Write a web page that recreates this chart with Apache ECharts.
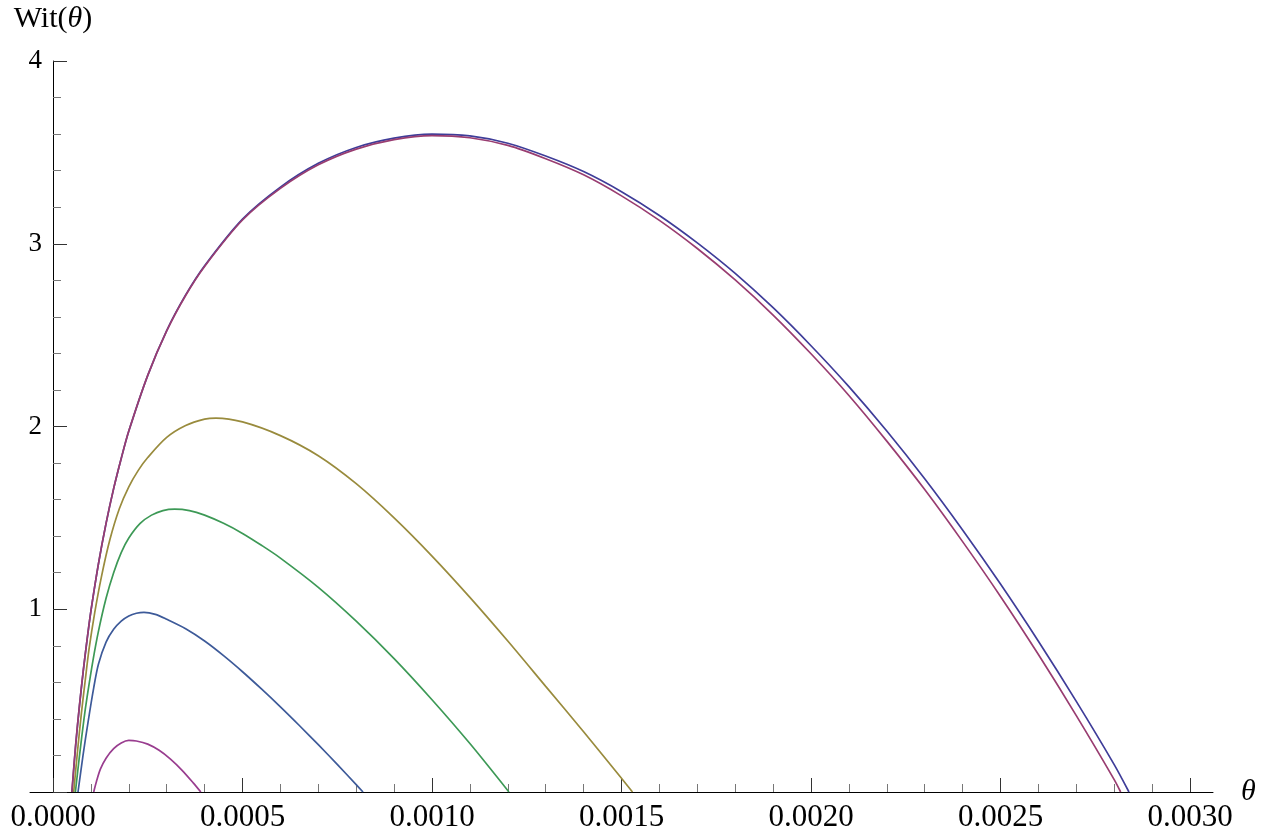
<!DOCTYPE html>
<html>
<head>
<meta charset="utf-8">
<script src="https://cdn.jsdelivr.net/npm/echarts@6/dist/echarts.min.js"></script>
<style>
html,body{margin:0;padding:0;background:#fff;}
#chart{width:1267px;height:835px;}
</style>
</head>
<body>
<div id="chart"></div>
<script>
// ---- data ----
const yTickValues = [0, 1, 2, 3, 4];

// series 1 (dark blue, largest)
const theta1 = [0.0000501,0.00006,0.00007,0.00008,0.00009,0.0001,0.00012,0.00014,0.00016,0.00018,0.0002,0.00025,0.0003,0.00035,0.0004,0.0005,0.0006,0.0007,0.0008,0.0009,0.001,0.0011,0.0012,0.0013,0.0014,0.0015,0.0016,0.0017,0.0018,0.0019,0.002,0.0021,0.0022,0.0023,0.0024,0.0025,0.0026,0.0027,0.0028,0.002839];
const wit1   = [0,0.26,0.475,0.665,0.835,0.99,1.25,1.47,1.66,1.825,1.975,2.28,2.525,2.72,2.88,3.135,3.31,3.44,3.527,3.578,3.600,3.59,3.55,3.48,3.395,3.285,3.155,3.005,2.838,2.65,2.442,2.218,1.975,1.714,1.434,1.138,0.825,0.496,0.15,0];

// series 2 (purple, almost on top of series 1)
const theta2 = [0.0000497,0.00006,0.00007,0.00008,0.00009,0.0001,0.00012,0.00014,0.00016,0.00018,0.0002,0.00025,0.0003,0.00035,0.0004,0.0005,0.0006,0.0007,0.0008,0.0009,0.001,0.0011,0.0012,0.0013,0.0014,0.0015,0.0016,0.0017,0.0018,0.0019,0.002,0.0021,0.0022,0.0023,0.0024,0.0025,0.0026,0.0027,0.0028,0.002817];
const wit2   = [0,0.265,0.478,0.667,0.835,0.99,1.25,1.47,1.66,1.825,1.975,2.28,2.523,2.717,2.876,3.13,3.303,3.432,3.518,3.57,3.592,3.58,3.538,3.465,3.377,3.262,3.128,2.974,2.802,2.61,2.398,2.17,1.92,1.655,1.37,1.07,0.752,0.418,0.068,0];

// series 3 (olive)
const theta3 = [0.0000546,0.000065,0.0000749,0.000085,0.000095,0.00011,0.000128,0.00015,0.000175,0.0002,0.000225,0.00025,0.0003,0.00035,0.0004,0.00043,0.0005,0.0006,0.0007,0.0008,0.0009,0.001,0.0011,0.0012,0.0013,0.0014,0.0015,0.001529];
const wit3   = [0,0.23,0.43,0.61,0.78,0.98,1.18,1.38,1.55,1.67,1.76,1.83,1.94,2.005,2.04,2.046,2.025,1.95,1.84,1.687,1.5,1.291,1.065,0.826,0.578,0.33,0.075,0];

// series 4 (green)
const theta4 = [0.0000591,0.00007,0.0000818,0.00009,0.0001055,0.00012,0.00014,0.00016,0.00018,0.0002,0.00023,0.00026,0.00029,0.000321,0.00036,0.0004,0.00045,0.0005,0.00055,0.0006,0.0007,0.0008,0.0009,0.001,0.0011,0.001203];
const wit4   = [0,0.2,0.4,0.52,0.72,0.88,1.06,1.2,1.31,1.39,1.47,1.515,1.54,1.548,1.54,1.515,1.47,1.415,1.35,1.28,1.12,0.935,0.73,0.505,0.265,0];

// series 5 (blue, small)
const theta5 = [0.000066,0.0000792,0.0000923,0.0001074,0.00012,0.00014,0.00016,0.00018,0.0002,0.00022,0.00024,0.00027,0.0003,0.00035,0.0004,0.00045,0.0005,0.00055,0.0006,0.00065,0.0007,0.00075,0.0008,0.000818];
const wit5   = [0,0.2,0.38,0.57,0.70,0.82,0.89,0.935,0.963,0.978,0.983,0.972,0.945,0.893,0.826,0.746,0.658,0.564,0.466,0.364,0.259,0.151,0.04,0];

// series 6 (magenta, smallest)
const theta6 = [0.0001074,0.000115,0.000125,0.00014,0.00016,0.00018,0.0002,0.00022,0.00025,0.00028,0.00031,0.00034,0.00037,0.00039];
const wit6   = [0,0.06,0.125,0.185,0.237,0.268,0.282,0.279,0.262,0.228,0.18,0.12,0.05,0];

const seriesColors = ['#3F3D99','#993D71','#998B3D','#3D9956','#3D5A99','#993D8F'];

// ---- build ----
const zip = (xs, ys) => xs.map((x, i) => [x, ys[i]]);
const allData = [zip(theta1,wit1), zip(theta2,wit2), zip(theta3,wit3), zip(theta4,wit4), zip(theta5,wit5), zip(theta6,wit6)];

const FONT = '"Liberation Serif", "DejaVu Serif", serif';
const chart = echarts.init(document.getElementById('chart'), null, {renderer: 'canvas'});

const option = {
  backgroundColor: '#ffffff',
  animation: false,
  grid: [
    {left: 53, right: 77, top: 61, bottom: 43},
    {left: 30, right: 54, top: 61, bottom: 43}
  ],
  xAxis: [
    {
      gridIndex: 0, type: 'value', min: 0, max: 0.003, interval: 0.0005,
      axisLine: {show: true, onZero: false, lineStyle: {color: '#000', width: 1}},
      axisTick: {show: true, inside: true, length: 14, lineStyle: {color: '#333', width: 1}},
      minorTick: {show: true, splitNumber: 5, length: 8, lineStyle: {color: '#777', width: 1}},
      splitLine: {show: false},
      axisLabel: {
        show: true, margin: 10, color: '#000', fontFamily: FONT, fontSize: 31,
        formatter: v => Number(v).toFixed(4)
      }
    },
    {
      gridIndex: 1, type: 'value', min: 0, max: 1,
      axisLine: {show: true, onZero: false, lineStyle: {color: '#000', width: 1}},
      axisTick: {show: false}, axisLabel: {show: false}, splitLine: {show: false},
      name: 'θ', nameLocation: 'end', nameGap: 28,
      nameTextStyle: {fontFamily: FONT, fontStyle: 'italic', fontSize: 30, color: '#000', verticalAlign: 'middle'}
    }
  ],
  yAxis: [
    {
      gridIndex: 0, type: 'value', min: 0, max: 4, interval: 1,
      axisLine: {show: true, onZero: false, lineStyle: {color: '#000', width: 1}},
      axisTick: {show: true, inside: true, length: 14, lineStyle: {color: '#333', width: 1}},
      minorTick: {show: true, splitNumber: 5, length: 8, lineStyle: {color: '#777', width: 1}},
      splitLine: {show: false},
      axisLabel: {
        show: true, margin: 11, color: '#000', fontFamily: FONT, fontSize: 27,
        formatter: v => (yTickValues.indexOf(v) >= 0 && v !== 0) ? String(v) : ''
      },
      name: 'Wit({i|θ})', nameLocation: 'end', nameGap: 27,
      nameTextStyle: {
        fontFamily: FONT, fontSize: 30, color: '#000', align: 'center',
        rich: {i: {fontFamily: FONT, fontSize: 30, fontStyle: 'italic', color: '#000'}}
      }
    },
    {gridIndex: 1, type: 'value', show: false, min: 0, max: 1}
  ],
  series: allData.map((d, i) => ({
    type: 'line', xAxisIndex: 0, yAxisIndex: 0, data: d,
    showSymbol: false, smooth: 0.3, clip: true,
    lineStyle: {color: seriesColors[i], width: 1.7},
    itemStyle: {color: seriesColors[i]},
    z: 2 + i
  }))
};
chart.setOption(option);
</script>
</body>
</html>
